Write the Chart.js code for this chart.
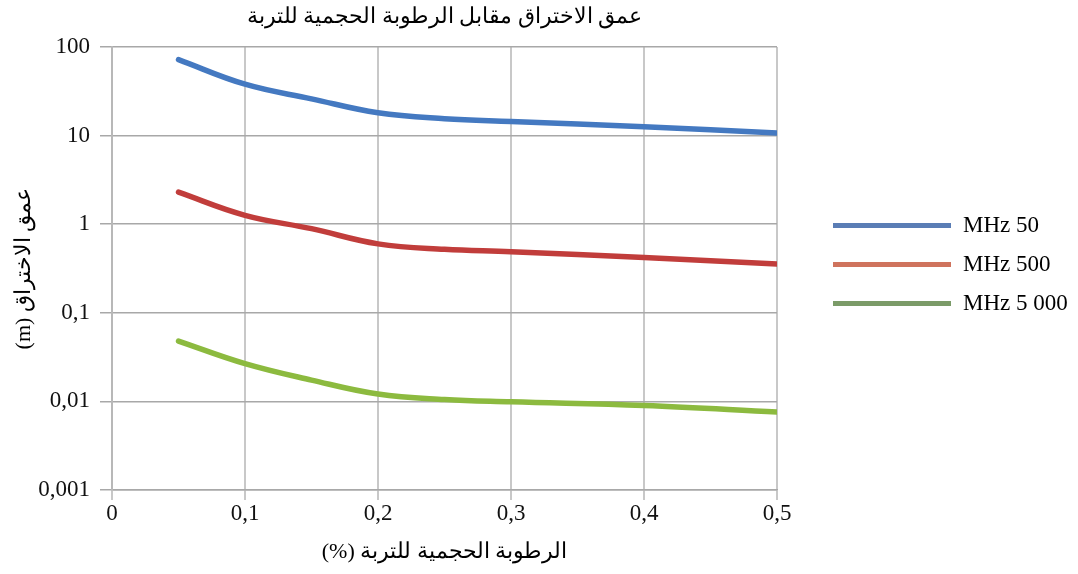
<!DOCTYPE html>
<html>
<head>
<meta charset="utf-8">
<script src="https://cdn.jsdelivr.net/npm/chart.js@4.4.1/dist/chart.umd.min.js"></script>
<style>
  html, body { margin: 0; padding: 0; background: #fff; }
</style>
</head>
<body>
<canvas id="grafico" width="1078" height="574"></canvas>
<script>
// humedad volumétrica (fracción) y profundidad de penetración (m)
const humedad = [0.05, 0.1, 0.15, 0.2, 0.25, 0.3, 0.4, 0.5];
const mhz50 = [72, 38, 26, 18.1, 15.5, 14.4, 12.6, 10.7];
const mhz500 = [2.3, 1.26, 0.89, 0.6, 0.52, 0.49, 0.42, 0.355];
const mhz5000 = [0.048, 0.0267, 0.0174, 0.0121, 0.0105, 0.0099, 0.009, 0.0076];
const nombresSeries = ['MHz 50', 'MHz 500', 'MHz 5 000'];

const xTicks = [0, 0.1, 0.2, 0.3, 0.4, 0.5];
const xTickLabels = ['0', '0,1', '0,2', '0,3', '0,4', '0,5'];
const yTicks = [0.001, 0.01, 0.1, 1, 10, 100];
const yTickLabels = ['0,001', '0,01', '0,1', '1', '10', '100'];

const coloresLinea = ['#4479c1', '#c13d3b', '#8cba3f'];
const coloresLeyenda = ['#5a7db5', '#cf735d', '#7b9b68'];

const serif = '"Liberation Serif", "DejaVu Serif", serif';

const puntos = (vals) => humedad.map((x, i) => ({ x, y: vals[i] }));

// leyenda a la derecha, separada del área del gráfico
const leyenda = {
  id: 'leyenda',
  afterDraw(chart) {
    const { ctx, chartArea } = chart;
    const x0 = chartArea.right + 56;
    const yMid = (chartArea.top + chartArea.bottom) / 2 - 4;
    ctx.save();
    ctx.font = '23px ' + serif;
    ctx.textBaseline = 'middle';
    ctx.textAlign = 'left';
    chart.data.datasets.forEach((ds, i) => {
      const y = yMid + (i - 1) * 39;
      ctx.strokeStyle = coloresLeyenda[i];
      ctx.lineWidth = 5;
      ctx.beginPath();
      ctx.moveTo(x0, y);
      ctx.lineTo(x0 + 118, y);
      ctx.stroke();
      ctx.fillStyle = '#000';
      ctx.fillText(ds.label, x0 + 130, y);
    });
    ctx.restore();
  }
};

const series = [mhz50, mhz500, mhz5000];

new Chart(document.getElementById('grafico'), {
  type: 'line',
  data: {
    datasets: series.map((vals, i) => ({
      label: nombresSeries[i],
      data: puntos(vals),
      borderColor: coloresLinea[i],
      backgroundColor: coloresLinea[i],
      borderWidth: 5.5,
      borderCapStyle: 'round',
      pointRadius: 0,
      tension: 0.4,
      fill: false
    }))
  },
  options: {
    responsive: false,
    animation: false,
    layout: { padding: { left: 0, right: 301, top: 0, bottom: 0 } },
    plugins: {
      legend: { display: false },
      tooltip: { enabled: false },
      title: {
        display: true,
        fullSize: false,
        text: 'عمق الاختراق مقابل الرطوبة الحجمية للتربة',
        color: '#000',
        font: { family: serif, size: 22, weight: 'normal' },
        padding: { top: 4, bottom: 16.6 }
      }
    },
    scales: {
      x: {
        type: 'linear',
        min: 0,
        max: 0.5,
        afterBuildTicks: (axis) => { axis.ticks = xTicks.map(v => ({ value: v })); },
        afterFit: (axis) => { axis.height = 84; },
        ticks: {
          color: '#111',
          font: { family: serif, size: 23 },
          padding: 0,
          maxRotation: 0,
          callback: (v) => xTickLabels[xTicks.indexOf(v)]
        },
        grid: { color: '#c8c8c8', lineWidth: 2, tickLength: 10 },
        border: { color: '#a8a8a8', width: 1.5 },
        title: {
          display: true,
          text: '(%) الرطوبة الحجمية للتربة',
          color: '#000',
          font: { family: serif, size: 22 },
          padding: { top: 4, bottom: 8.8 }
        }
      },
      y: {
        type: 'logarithmic',
        min: 0.001,
        max: 100,
        afterBuildTicks: (axis) => { axis.ticks = yTicks.map(v => ({ value: v })); },
        afterFit: (axis) => { axis.width = 112; },
        ticks: {
          color: '#111',
          font: { family: serif, size: 23 },
          padding: 10,
          callback: (v) => yTickLabels[yTicks.indexOf(v)]
        },
        grid: { color: '#a8a8a8', lineWidth: 1.5, tickLength: 12 },
        border: { color: '#b8b8b8', width: 2 },
        title: {
          display: true,
          text: '(m) عمق الاختراق',
          color: '#000',
          font: { family: serif, size: 22 },
          padding: { top: 11, bottom: 0 }
        }
      }
    }
  },
  plugins: [leyenda]
});
</script>
</body>
</html>
